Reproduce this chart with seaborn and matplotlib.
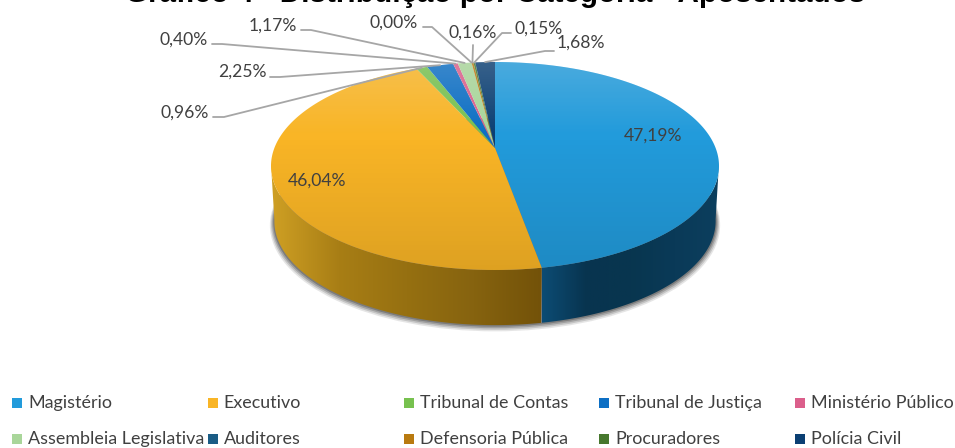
#!/usr/bin/env python3
import numpy as np
import matplotlib
matplotlib.use("Agg")
import matplotlib.pyplot as plt
from matplotlib.patches import Ellipse, Polygon, Rectangle
import seaborn as sns

# data
categorias = ["Magistério", "Executivo", "Tribunal de Contas", "Tribunal de Justiça",
              "Ministério Público", "Assembleia Legislativa", "Auditores",
              "Defensoria Pública", "Procuradores", "Polícia Civil"]
valores = [47.19, 46.04, 0.96, 2.25, 0.40, 1.17, 0.00, 0.16, 0.15, 1.68]
rotulos = ["47,19%", "46,04%", "0,96%", "2,25%", "0,40%", "1,17%", "0,00%", "0,16%", "0,15%", "1,68%"]
titulo = "Gráfico 4 - Distribuição por Categoria - Aposentados"

cores = ["#229BDB", "#F9B526", "#77C14F", "#0D6FC4", "#DB5F8B",
         "#A9D69A", "#1A5C85", "#B97A0F", "#47782E", "#0B3F73"]
# shading of the visible side walls
lados = {"Magistério": ["#0C4C74", "#08344F", "#08364F", "#0A3A58", "#0C3F5E"],
         "Executivo": ["#CFA024", "#A87E15", "#967011", "#86630F", "#735209"]}

sns.set_theme(style="white")
plt.rcParams["font.family"] = ["Lato", "DejaVu Sans"]

W, H = 955, 448
fig = plt.figure(figsize=(W / 100, H / 100), dpi=100, facecolor="white")

# ellipse of the pie top in pixels, axes made bigger so the wall is not clipped
cx, cy, rx, ry = 495, 166, 224, 104
x0, x1, y0, y1 = -1.05, 1.05, -1.8, 1.1
ax = fig.add_axes([(cx + rx * x0) / W, 1 - (cy - ry * y0) / H, rx * (x1 - x0) / W, ry * (y1 - y0) / H])
ov = fig.add_axes([0, 0, 1, 1])
ov.set_xlim(0, W)
ov.set_ylim(H, 0)
ov.axis("off")
ov.patch.set_alpha(0)

C = 0.173  # perspective: moves the apex up from the ellipse centre


def warp(x, y):
    d = 1 + C * y
    return x * np.sqrt(1 - C ** 2) / d, (y + C) / d


def borda(pct):
    # pie percent clockwise from the top -> point on the warped rim
    a = np.pi / 2 - 2 * np.pi * np.asarray(pct) / 100
    return warp(np.cos(a), np.sin(a))


wedges, _ = ax.pie(valores, colors=cores, startangle=90, counterclock=False,
                   radius=1, center=(0, 0))
ax.set_aspect("auto")
ax.axis("off")

# drop shadow + side wall
prof, esc = 0.53, 0.985
for g, a in zip([0.040, 0.030, 0.020, 0.010], [0.12, 0.18, 0.24, 0.32]):
    ax.add_patch(Ellipse((0, -prof - g), 2 * esc + g, 2 + g, color="#303030", alpha=a, lw=0, zorder=0.5))

acum = np.concatenate([[0], np.cumsum(valores)])
for i, nome in enumerate(categorias):
    if nome not in lados:
        continue
    p = np.linspace(acum[i], acum[i + 1], 300)
    x, y = borda(p)
    vis = y <= 0.02
    x, y = x[vis], y[vis]
    pts = np.vstack([np.column_stack([x, y]),
                     np.column_stack([x * esc, y - prof])[::-1]])
    pol = Polygon(pts, closed=True, transform=ax.transData, fc="none", lw=0)
    ax.add_patch(pol)
    cmap = sns.blend_palette(lados[nome], as_cmap=True)
    im = ax.imshow(np.linspace(0, 1, 256)[None, :], cmap=cmap, aspect="auto",
                   extent=(x.min(), x.max(), -1.7, 1), zorder=1)
    im.set_clip_path(pol)

# warp the flat wedges of the pie
for w in wedges:
    a = np.radians(np.linspace(w.theta1, w.theta2, 400))
    xa = np.concatenate([[0], np.cos(a)])
    ya = np.concatenate([[0], np.sin(a)])
    xw, yw = warp(xa, ya)
    ax.add_patch(Polygon(np.column_stack([xw, yw]), closed=True, fc=w.get_facecolor(), ec="none", zorder=2))
    w.set_visible(False)

# light/dark glaze of the top face
n = 256
t = np.linspace(0, 1, n)  # 0 top, 1 bottom
brilho = np.zeros((n, 1, 4))
branco = t < 0.35
brilho[branco, 0, :3] = 0.92
brilho[branco, 0, 3] = 0.2 * (1 - t[branco] / 0.35)
brilho[~branco, 0, 3] = 0.11 * (t[~branco] - 0.35) / 0.65
im = ax.imshow(brilho, aspect="auto", extent=(-1, 1, -1, 1), zorder=3)
clip = Ellipse((0, 0), 2, 2, transform=ax.transData)
im.set_clip_path(clip)
ax.set_xlim(x0, x1)
ax.set_ylim(y0, y1)

# title (cut by the top of the image in the source)
ov.text(495, 2.5, titulo, family="Liberation Sans", fontweight="bold", fontsize=21.3,
        color="black", ha="center", va="baseline")

# data labels
cor_txt = "#404040"
fs = 12.6
ov.text(653, 136, rotulos[0], fontsize=fs, color=cor_txt, ha="center", va="center")
ov.text(317, 181, rotulos[1], fontsize=fs, color=cor_txt, ha="center", va="center")

# label centre, leader start, elbow for the small slices
guia = {2: ((185, 113), (213, 117), (224, 117)),
        3: ((242, 72), (270, 77), (280, 77)),
        4: ((184, 40), (212, 44), (222, 44)),
        5: ((273, 26), (301, 30), (311, 30)),
        6: ((394, 23), (423, 27), (432, 27)),
        7: ((473, 33), (473, 45), (473, 45)),
        8: ((539, 29), (511, 33), (502, 33)),
        9: ((581, 43), (554, 51), (545, 51))}
for i, (centro, ini, cot) in guia.items():
    xe, ye = borda((acum[i] + acum[i + 1]) / 2)
    fim = (cx + rx * xe, cy - ry * ye)
    ov.plot([ini[0], cot[0], fim[0]], [ini[1], cot[1], fim[1]], color="#A6A6A6", lw=1.3, zorder=6)
    ov.text(centro[0], centro[1], rotulos[i], fontsize=fs, color=cor_txt, ha="center", va="center", zorder=7)

# legend, five equal columns
for i, (nome, cor) in enumerate(zip(categorias, cores)):
    lin, col = divmod(i, 5)
    xl = 12 + 195.8 * col
    yl = [403, 439][lin]
    ov.add_patch(Rectangle((xl, yl - 5), 10, 10, fc=cor, ec="none"))
    ov.text(xl + 16, yl + 5, nome, fontsize=12.9, color=cor_txt, ha="left", va="baseline")

fig.savefig("out.png", dpi=100)
